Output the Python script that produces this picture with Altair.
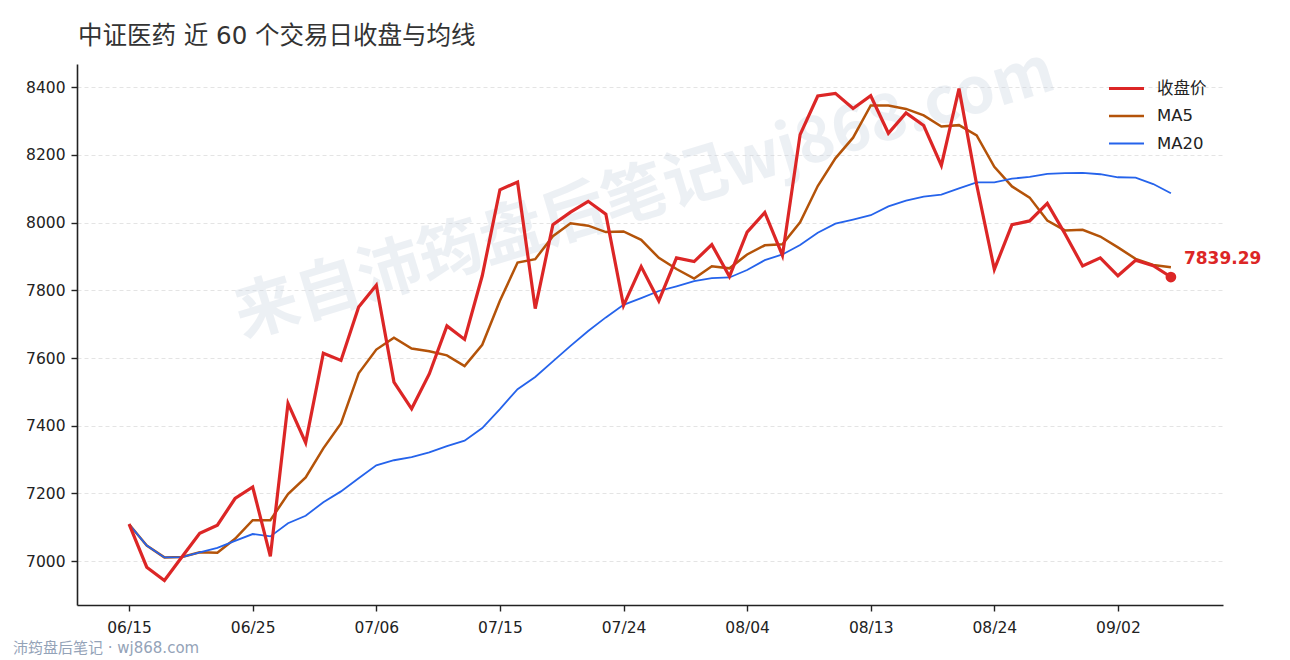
import altair as alt
import pandas as pd

TITLE = "中证医药 近 60 个交易日收盘与均线"
FOOTER = "沛筠盘后笔记 · wj868.com"
WATERMARK = "来自沛筠盘后笔记wj868.com"

SERIES = ["收盘价", "MA5", "MA20"]
COLORS = ["#dc2626", "#b45309", "#2563eb"]
WIDTHS = [3.2, 1.8, 1.8]

# 每 7 个交易日一个刻度
TICK_STEP = 7
TICK_LABELS = ["06/15", "06/25", "07/06", "07/15", "07/24", "08/04", "08/13", "08/24", "09/02"]
Y_TICKS = [7000, 7200, 7400, 7600, 7800, 8000, 8200, 8400]

CLOSE = [7109, 6982, 6943, 7013, 7082, 7106, 7185, 7219, 7014, 7466,
         7350, 7614, 7593, 7751, 7815, 7529, 7450, 7553, 7695, 7655,
         7843, 8097, 8120, 7746, 7994, 8031, 8063, 8025, 7755, 7870,
         7769, 7896, 7885, 7935, 7841, 7972, 8030, 7903, 8260, 8374,
         8382, 8337, 8375, 8264, 8324, 8287, 8169, 8396, 8112, 7862,
         7994, 8005, 8057, 7967, 7872, 7896, 7843, 7889, 7873, 7839.29]
MA5 = [7109, 7046, 7011, 7012, 7026, 7025, 7066, 7121, 7121, 7198,
       7247, 7333, 7407, 7555, 7625, 7660, 7628, 7620, 7608, 7576,
       7639, 7769, 7882, 7892, 7960, 7998, 7991, 7972, 7974, 7949,
       7896, 7863, 7835, 7871, 7865, 7906, 7933, 7936, 8001, 8108,
       8190, 8251, 8346, 8346, 8336, 8317, 8284, 8288, 8258, 8165,
       8107, 8074, 8006, 7977, 7979, 7959, 7927, 7893, 7875, 7868]
MA20 = [7109, 7046, 7011, 7012, 7026, 7039, 7060, 7080, 7073, 7112,
        7134, 7174, 7206, 7245, 7283, 7298, 7307, 7321, 7340, 7356,
        7393, 7449, 7508, 7544, 7590, 7636, 7680, 7720, 7757, 7777,
        7798, 7812, 7827, 7836, 7838, 7860, 7889, 7906, 7934, 7970,
        7997, 8009, 8022, 8048, 8065, 8077, 8083, 8101, 8119, 8119,
        8130, 8135, 8144, 8146, 8147, 8143, 8134, 8133, 8114, 8087]

CJK = "Noto Sans CJK SC"
FONT = "DejaVu Sans, Noto Sans CJK SC"
NUM_FONT = "DejaVu Sans"

rows = []
for name, vals in zip(SERIES, [CLOSE, MA5, MA20]):
    for i, v in enumerate(vals):
        rows.append({"day": i, "series": name, "value": v})
df = pd.DataFrame(rows)
last = len(CLOSE) - 1

n = len(CLOSE) - 1
pad = n * 0.05
lo, hi = min(CLOSE + MA5 + MA20), max(CLOSE + MA5 + MA20)
ypad = (hi - lo) * 0.05

label_expr = "[" + ",".join(f"'{t}'" for t in TICK_LABELS) + f"][round(datum.value / {TICK_STEP})]"

x = alt.X(
    "day:Q",
    scale=alt.Scale(domain=[-pad, n + pad], nice=False, zero=False),
    axis=alt.Axis(
        values=[i * TICK_STEP for i in range(len(TICK_LABELS))],
        labelExpr=label_expr,
        grid=False,
        title=None,
        tickSize=6,
        labelPadding=9,
    ),
)
y = alt.Y(
    "value:Q",
    scale=alt.Scale(domain=[lo - ypad, hi + ypad], nice=False, zero=False),
    axis=alt.Axis(
        values=Y_TICKS,
        format="d",
        grid=True,
        gridDash=[4, 3],
        gridColor="#dddddd",
        gridWidth=0.8,
        title=None,
        tickSize=6,
        labelPadding=6,
    ),
)

legend = alt.Legend(
    title=None,
    orient="none",
    legendX=1030,
    legendY=5,
    symbolType="stroke",
    symbolSize=1225,
    labelFont=FONT,
    labelFontSize=16.5,
    labelColor="#222222",
    labelOffset=11,
    rowPadding=0,
    padding=0,
)
color = alt.Color("series:N", scale=alt.Scale(domain=SERIES, range=COLORS), legend=legend)
width = alt.StrokeWidth("series:N", scale=alt.Scale(domain=SERIES, range=WIDTHS), legend=legend)

base = alt.Chart(df)


def series_line(name):
    return (
        base.transform_filter(alt.datum.series == name)
        .mark_line()
        .encode(x=x, y=y, color=color, strokeWidth=width)
    )


def label(text, **style):
    return alt.Chart(pd.DataFrame({"t": [text]})).mark_text(**style)


watermark = label(
    WATERMARK, font=CJK, fontSize=64, fontWeight="bold", color="#cbd5e1", opacity=0.35,
    angle=343, align="center", baseline="middle",
).encode(text="t:N", x=alt.value(568), y=alt.value(131))

title = label(
    TITLE, font=FONT, fontSize=24.5, color="#333333", align="left", baseline="alphabetic",
).encode(text="t:N", x=alt.value(1), y=alt.value(-20))

footer = label(
    FOOTER, font=FONT, fontSize=15, color="#94a3b8", align="left", baseline="middle",
).encode(text="t:N", x=alt.value(-64), y=alt.value(584))

last_pt = base.transform_filter((alt.datum.series == SERIES[0]) & (alt.datum.day == last))
dot = last_pt.mark_circle(color=COLORS[0], size=115, opacity=1).encode(x=x, y=y)
dot_label = last_pt.mark_text(
    align="left", baseline="alphabetic", dx=13, dy=-13,
    font=NUM_FONT, fontSize=17, fontWeight="bold", color=COLORS[0],
).encode(x=x, y=y, text=alt.Text("value:Q", format=".2f"))

chart = (
    alt.layer(
        watermark,
        series_line("MA5"),
        series_line("MA20"),
        series_line("收盘价"),
        dot,
        dot_label,
        title,
        footer,
    )
    .properties(
        width=1146,
        height=541,
        padding={"left": 69, "top": 56, "right": 59, "bottom": 55},
        autosize=alt.AutoSizeParams(type="none"),
    )
    .configure_view(stroke=None)
    .configure_axis(
        domainColor="#222222",
        domainWidth=1.6,
        tickColor="#222222",
        tickWidth=1.4,
        labelColor="#222222",
        labelFont=NUM_FONT,
        labelFontSize=15.5,
    )
)

chart.save("out.html", embed_options={"renderer": "svg", "actions": False})
